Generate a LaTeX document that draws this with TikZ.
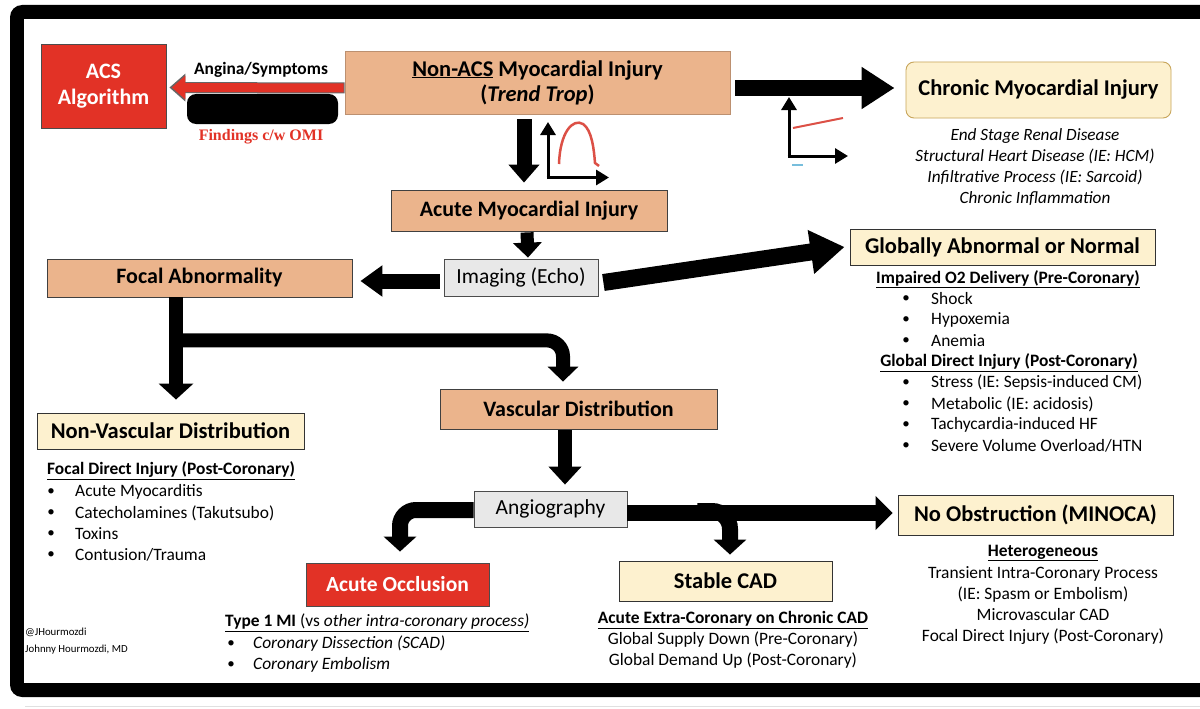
\documentclass[tikz,border=0pt]{standalone}
\usepackage{fontspec}
\setmainfont{Carlito}
\newfontfamily\serifbold{Liberation Serif}
\usetikzlibrary{arrows.meta,calc}
\definecolor{tanc}{RGB}{235,180,140}
\definecolor{lyel}{RGB}{253,241,207}
\definecolor{acsred}{RGB}{226,50,38}
\definecolor{lgray}{RGB}{232,232,232}
\definecolor{goldc}{RGB}{200,165,90}
\definecolor{trred}{RGB}{220,80,70}
\definecolor{lblue}{RGB}{120,190,220}
\begin{document}
\begin{tikzpicture}[x=1pt,y=-1pt,
  tanbox/.style={draw=black!75, line width=0.8pt, fill=tanc, inner sep=0pt, align=center, font=\fontsize{22}{26}\selectfont\bfseries},
  yelbox/.style={draw=black!80, line width=0.9pt, fill=lyel, inner sep=0pt, align=center, font=\fontsize{22.5}{26}\selectfont\bfseries},
  graybox/.style={draw=black!70, line width=0.8pt, fill=lgray, inner sep=0pt, font=\fontsize{21.5}{25}\selectfont},
  redbox/.style={draw=black!70, line width=0.8pt, fill=acsred, text=white, inner sep=0pt, align=center, font=\fontsize{22}{26}\selectfont\bfseries},
  txt/.style={inner sep=0pt, font=\fontsize{17.4}{21}\selectfont},
  ittxt/.style={inner sep=0pt, font=\fontsize{17.4}{21}\selectfont\itshape},
  hdr/.style={inner sep=0pt, font=\fontsize{17.4}{21}\selectfont\bfseries},
  bul/.style={inner sep=0pt, font=\fontsize{15}{18}\selectfont},
  axisarr/.style={line width=3pt, -{Triangle[length=13pt,width=15pt]}},
]
\useasboundingbox (0,0) rectangle (1200,709);
% frame
\fill[black, rounded corners=12pt] (10,5) rectangle (1240,697);
\fill[white] (24,19) rectangle (1200,683);
\draw[black!12, line width=1pt] (25,706) -- (1200,706);

% nodes
\node[redbox, minimum width=125pt, minimum height=84pt] (acs) at (103.5,86) {ACS\\Algorithm};
\node[tanbox, draw=tanc!80!black, minimum width=385pt, minimum height=63pt, font=\fontsize{22.5}{25}\selectfont\bfseries] (nonacs) at (537.5,82.5) {\underline{Non-ACS} Myocardial Injury\\(\textit{Trend Trop})};
\node[yelbox, draw=goldc, rounded corners=8pt, minimum width=265pt, minimum height=56pt] (chronic) at (1038.5,90) {Chronic Myocardial Injury};
\node[tanbox, minimum width=276pt, minimum height=41pt] (acute) at (529,210.5) {Acute Myocardial Injury};
\node[graybox, minimum width=154pt, minimum height=37pt] (imaging) at (521,277.5) {Imaging (Echo)};
\node[tanbox, minimum width=305pt, minimum height=38pt] (focal) at (199.5,278) {Focal Abnormality};
\node[yelbox, minimum width=305pt, minimum height=36pt] (global) at (1002.5,247) {Globally Abnormal or Normal};
\node[yelbox, minimum width=267pt, minimum height=36pt] (nonvasc) at (170.5,431) {Non-Vascular Distribution};
\node[tanbox, minimum width=277pt, minimum height=40pt] (vasc) at (578.5,409) {Vascular Distribution};
\node[graybox, minimum width=153pt, minimum height=36pt] (angio) at (550.5,509) {Angiography};
\node[redbox, minimum width=183pt, minimum height=43pt, font=\fontsize{21.5}{25}\selectfont\bfseries] (occl) at (397.5,584.5) {Acute Occlusion};
\node[yelbox, minimum width=213pt, minimum height=40pt] (stable) at (725.5,581) {Stable CAD};
\node[yelbox, minimum width=275pt, minimum height=40pt] (minoca) at (1035.5,515) {No Obstruction (MINOCA)};

% red arrow to ACS
\draw[line width=11pt, draw=black!60, -{Triangle[length=16pt,width=27pt]}] ($(nonacs.west)+(0,5.5)$) -- ($(acs.east)+(3,1.5)$);
\draw[line width=9pt, draw=acsred, -{Triangle[length=13.5pt,width=23pt]}] ($(nonacs.west)+(-1,5.5)$) -- ($(acs.east)+(5.5,1.5)$);
\node[hdr] (angina) at (261,70) {Angina/Symptoms};
\fill[black, rounded corners=9pt] (187,94) rectangle (338,124);
\node[inner sep=0pt, text=acsred, font=\fontsize{16}{19}\selectfont\serifbold\bfseries] (omi) at (261,137) {Findings c/w OMI};

% chronic arrow
\draw[line width=16pt, -{Triangle[length=33pt,width=40pt]}] ($(nonacs.east)+(5,5.5)$) -- ($(chronic.west)+(-11,-2)$);
% chronic plot
\draw[axisarr] (789,157) -- (789,97);
\draw[axisarr] (787.5,156) -- (848,156);
\draw[trred, line width=2pt] (793,128) -- (843,118);
\draw[lblue, line width=1.5pt] (792,165) -- (803,165);
\node[ittxt, align=center, font=\fontsize{17.2}{21.3}\selectfont\itshape] (chrlist) at (1035,167) {End Stage Renal Disease\\Structural Heart Disease (IE: HCM)\\Infiltrative Process (IE: Sarcoid)\\Chronic Inflammation};

% down arrow non-acs -> acute
\draw[line width=15pt, -{Triangle[length=18pt,width=30pt]}] ($(nonacs.south)+(-13.5,5)$) -- ($(acute.north)+(-5,-7)$);
% trop plot
\draw[axisarr] (548,179) -- (548,122);
\draw[axisarr] (546.5,177.5) -- (609,177.5);
\draw[trred, line width=2.5pt] (559,164) .. controls (560,132) and (573,118) .. (583,124) .. controls (592,130) and (594,150) .. (595,163) -- (599,166);

% acute -> imaging
\draw[line width=13pt, -{Triangle[length=15pt,width=28pt]}] ($(acute.south)+(-2,1)$) -- ($(imaging.north)+(7,-1)$);
% imaging -> focal
\draw[line width=15pt, -{Triangle[length=22pt,width=30pt]}] ($(imaging.west)+(-4,3.5)$) -- ($(focal.east)+(8,3)$);
% imaging -> global
\draw[line width=17pt, -{Triangle[length=34pt,width=42pt]}] ($(imaging.east)+(5,5)$) -- ($(global.west)+(-5,0)$);

% global list
\node[hdr] (g1) at (1008,279) {\underline{Impaired O2 Delivery (Pre-Coronary)}};
\foreach \t [count=\i] in {Shock,Hypoxemia,Anemia}{
  \node[bul] (gb\i) at (906,278+21*\i) {\textbullet};
  \node[txt, anchor=west] (gi\i) at (931,278+21*\i) {\t};
}
\node[hdr] (g2) at (1009,363) {\underline{Global Direct Injury (Post-Coronary)}};
\foreach \t [count=\i] in {Stress (IE: Sepsis-induced CM),Metabolic (IE: acidosis),Tachycardia-induced HF,Severe Volume Overload/HTN}{
  \node[bul] (hb\i) at (906,362+21*\i) {\textbullet};
  \node[txt, anchor=west] (hi\i) at (931,362+21*\i) {\t};
}

% focal split
\draw[line width=14pt, -{Triangle[length=16pt,width=34pt]}] ($(focal.south)+(-23.5,0)$) -- ($(nonvasc.north)+(5.5,-13)$);
\draw[line width=14pt, rounded corners=16pt, -{Triangle[length=15pt,width=30pt]}] ($(focal.south)+(-23.5,43)$) -| ($(vasc.north)+(-15.5,-7)$);

% nonvasc list
\node[hdr, anchor=west] (nvh) at (47,471) {\underline{Focal Direct Injury (Post-Coronary)}};
\foreach \t [count=\i] in {Acute Myocarditis,Catecholamines (Takutsubo),Toxins,Contusion/Trauma}{
  \node[bul] (nb\i) at (51,471+21*\i) {\textbullet};
  \node[txt, anchor=west] (ni\i) at (75,471+21*\i) {\t};
}

% vasc -> angio
\draw[line width=14pt, -{Triangle[length=18pt,width=32pt]}] ($(vasc.south)+(-13.5,1)$) -- ($(angio.north)+(14.5,-6)$);
% angio -> occlusion
\draw[line width=16pt, rounded corners=16pt, -{Triangle[length=15pt,width=32pt]}] ($(angio.west)+(0,1)$) -| ($(occl.north)+(2.5,-11)$);
% angio -> minoca
\draw[line width=16pt, -{Triangle[length=17pt,width=33pt]}] ($(angio.east)+(0,4)$) -- ($(minoca.west)+(-5,-2)$);
% angio -> stable
\draw[line width=16pt, rounded corners=18pt, -{Triangle[length=15pt,width=32pt]}] ($(angio.east)+(70,2)$) -| ($(stable.north)+(4.5,-6)$);

% occlusion list
\node[txt, anchor=west] (oh) at (225,623) {\underline{\textbf{Type 1 MI} (vs \textit{other intra-coronary process)}}};
\foreach \t [count=\i] in {Coronary Dissection (SCAD),Coronary Embolism}{
  \node[bul] (ob\i) at (231,623+21*\i) {\textbullet};
  \node[ittxt, anchor=west] (oi\i) at (253,623+21*\i) {\t};
}

% stable list
\node[hdr] (sh) at (733,620) {\underline{Acute Extra-Coronary on Chronic CAD}};
\node[txt, align=center, font=\fontsize{17.4}{21}\selectfont] (sl) at (733,650.5) {Global Supply Down (Pre-Coronary)\\Global Demand Up (Post-Coronary)};

% minoca list
\node[hdr] (mh) at (1043,553) {\underline{Heterogeneous}};
\node[txt, align=center, font=\fontsize{17.4}{21}\selectfont] (ml) at (1043,605.5) {Transient Intra-Coronary Process\\(IE: Spasm or Embolism)\\Microvascular CAD\\Focal Direct Injury (Post-Coronary)};

% credit
\node[inner sep=0pt, anchor=west, align=left, font=\fontsize{10.8}{17}\selectfont] (credit) at (25,641.5) {@JHourmozdi\\Johnny Hourmozdi, MD};
\end{tikzpicture}
\end{document}
